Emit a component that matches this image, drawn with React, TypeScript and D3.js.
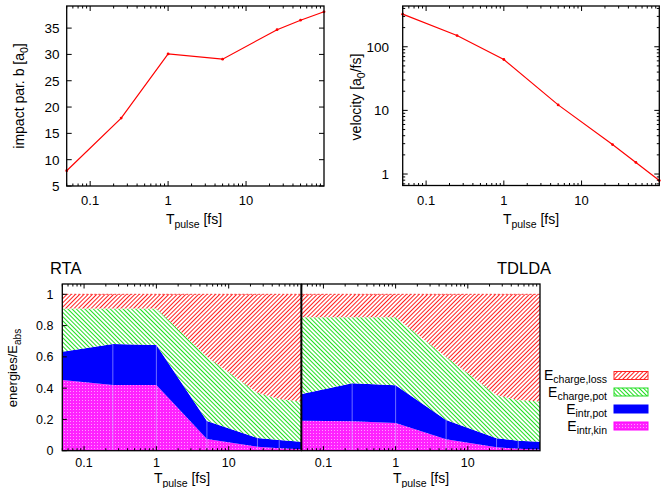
import React from 'react';
import * as d3 from 'd3';

// ---------- data ----------
const T = [0.05, 0.25, 1, 5, 25, 50, 100];
const impactPar = [7.9, 17.9, 30.1, 29.1, 34.7, 36.5, 38.1];
const velocity = [325, 150, 63, 12.2, 2.9, 1.52, 0.79];

const seriesKeys = ['intrKin', 'intrPot', 'chargePot', 'chargeLoss'];

const rtaIntrKin = [0.452, 0.42, 0.42, 0.075, 0.025, 0.015, 0.01];
const rtaIntrPot = [0.181, 0.262, 0.256, 0.115, 0.057, 0.053, 0.048];
const rtaChargePot = [0.277, 0.228, 0.234, 0.41, 0.288, 0.262, 0.257];
const rtaChargeLoss = [0.09, 0.09, 0.09, 0.4, 0.63, 0.67, 0.685];

const tdIntrKin = [0.192, 0.188, 0.177, 0.073, 0.022, 0.012, 0.008];
const tdIntrPot = [0.171, 0.243, 0.241, 0.123, 0.057, 0.052, 0.05];
const tdChargePot = [0.49, 0.422, 0.435, 0.404, 0.277, 0.26, 0.257];
const tdChargeLoss = [0.147, 0.147, 0.147, 0.4, 0.644, 0.676, 0.685];

const xTickValues = [0.1, 1, 10];
const xTickLabels = ['0.1', '1', '10'];
const impactTicks = [5, 10, 15, 20, 25, 30, 35];
const velocityTicks = [1, 10, 100];
const velocityTickLabels = ['1', '10', '100'];
const energyTicks = [0, 0.2, 0.4, 0.6, 0.8, 1];
const energyTickLabels = ['0', '0.2', '0.4', '0.6', '0.8', '1'];
const panelTitles = ['RTA', 'TDLDA'];
const legendMain = ['E', 'E', 'E', 'E'];
const legendSub = ['charge,loss', 'charge,pot', 'intr,pot', 'intr,kin'];
const legendKeys = ['chargeLoss', 'chargePot', 'intrPot', 'intrKin'];

// ---------- styles ----------
const FONT = 'Liberation Sans, Arial, Helvetica, sans-serif';
const fills: Record<string, string> = {
  intrKin: '#ff22ff',
  intrPot: '#0000ff',
  chargePot: 'url(#greenHatch)',
  chargeLoss: 'url(#redHatch)',
};
const strokes: Record<string, string> = {
  intrKin: '#ff00ff',
  intrPot: '#0000ff',
  chargePot: '#22dd22',
  chargeLoss: '#ff2222',
};

function logMinors(d0: number, d1: number) {
  const out: number[] = [];
  for (let e = -3; e <= 3; e++) {
    for (let m = 2; m <= 9; m++) {
      const v = m * Math.pow(10, e);
      if (v >= d0 * 0.999 && v <= d1 * 1.001) out.push(v);
    }
  }
  return out;
}

type Sc = (v: number) => number;

function XTicks({ x, yb, yt, majors, minors, labels, labelY, fs, len = 5, mlen = 2.5 }: any) {
  return (
    <g>
      {majors.map((v: number, i: number) => (
        <g key={'M' + i}>
          <line x1={x(v)} x2={x(v)} y1={yb} y2={yb - len} stroke="#000" strokeWidth={1} />
          <line x1={x(v)} x2={x(v)} y1={yt} y2={yt + len} stroke="#000" strokeWidth={1} />
          {labels && (
            <text x={x(v)} y={labelY} textAnchor="middle" fontSize={fs} fontFamily={FONT} fill="#000">
              {labels[i]}
            </text>
          )}
        </g>
      ))}
      {minors.map((v: number, i: number) => (
        <g key={'m' + i}>
          <line x1={x(v)} x2={x(v)} y1={yb} y2={yb - mlen} stroke="#000" strokeWidth={1} />
          <line x1={x(v)} x2={x(v)} y1={yt} y2={yt + mlen} stroke="#000" strokeWidth={1} />
        </g>
      ))}
    </g>
  );
}

function YTicks({ y, xl, xr, majors, minors, labels, labelX, fs, len = 5, mlen = 2.5, right = true }: any) {
  return (
    <g>
      {majors.map((v: number, i: number) => (
        <g key={'M' + i}>
          <line x1={xl} x2={xl + len} y1={y(v)} y2={y(v)} stroke="#000" strokeWidth={1} />
          {right && <line x1={xr} x2={xr - len} y1={y(v)} y2={y(v)} stroke="#000" strokeWidth={1} />}
          {labels && (
            <text x={labelX} y={y(v) + fs * 0.36} textAnchor="end" fontSize={fs} fontFamily={FONT} fill="#000">
              {labels[i]}
            </text>
          )}
        </g>
      ))}
      {minors.map((v: number, i: number) => (
        <g key={'m' + i}>
          <line x1={xl} x2={xl + mlen} y1={y(v)} y2={y(v)} stroke="#000" strokeWidth={1} />
          {right && <line x1={xr} x2={xr - mlen} y1={y(v)} y2={y(v)} stroke="#000" strokeWidth={1} />}
        </g>
      ))}
    </g>
  );
}

function TpulseLabel({ x, y }: { x: number; y: number }) {
  return (
    <text x={x} y={y} textAnchor="middle" fontSize={14} fontFamily={FONT} fill="#000" style={{ whiteSpace: 'pre' }}>
      <tspan>T</tspan>
      <tspan fontSize={10.5} dy={4}>pulse</tspan>
      <tspan dy={-4}> [fs]</tspan>
    </text>
  );
}

function LinePanel({ x, y, values }: { x: Sc; y: Sc; values: number[] }) {
  const line = d3
    .line<number>()
    .x((_, i) => x(T[i]))
    .y((d) => y(d));
  return (
    <g>
      <path d={line(values) || ''} fill="none" stroke="#ff0000" strokeWidth={1.2} />
      {values.map((v, i) => (
        <circle key={i} cx={x(T[i])} cy={y(v)} r={1.4} fill="#ff0000" />
      ))}
    </g>
  );
}

function StackPanel({ x, y, cols }: any) {
  const rows = T.map((t, i) => ({
    t,
    intrKin: cols[0][i],
    intrPot: cols[1][i],
    chargePot: cols[2][i],
    chargeLoss: cols[3][i],
  }));
  const stacked = d3.stack<any>().keys(seriesKeys)(rows);
  const area = d3
    .area<any>()
    .x((d) => x(d.data.t))
    .y0((d) => y(d[0]))
    .y1((d) => y(d[1]));
  const topLine = d3
    .line<any>()
    .x((d) => x(d.data.t))
    .y((d) => y(d[1]));
  const blueLayer = stacked[1];
  return (
    <g>
      {stacked.map((s) => (
        <path key={s.key} d={area(s as any) || ''} fill={fills[s.key]} stroke="none" />
      ))}
      <path d={area(stacked[0] as any) || ''} fill="url(#dotOverlay)" stroke="none" />
      <path d={topLine(stacked[3] as any) || ''} fill="none" stroke="#ff3333" strokeWidth={1} strokeDasharray="2,2" />
      {blueLayer.slice(1, -1).map((d: any, i: number) => (
        <line
          key={i}
          x1={x(d.data.t)}
          x2={x(d.data.t)}
          y1={y(0)}
          y2={y(d[1])}
          stroke="rgba(200,200,255,0.55)"
          strokeWidth={1}
        />
      ))}
    </g>
  );
}

export default function App() {
  const xTL = d3.scaleLog().domain([0.05, 100]).range([66.7, 324]);
  const yTL = d3.scaleLinear().domain([5, 39.2]).range([186, 6]);
  const xTR = d3.scaleLog().domain([0.05, 100]).range([402.7, 659.3]);
  const yTR = d3.scaleLog().domain([0.66, 437]).range([185.5, 6]);
  const xBL = d3.scaleLog().domain([0.05, 100]).range([62.3, 301]);
  const xBR = d3.scaleLog().domain([0.05, 100]).range([301.7, 540]);
  const yB = d3.scaleLinear().domain([0, 1.066]).range([450.7, 284]);

  const xMinors = logMinors(0.05, 100);
  const yMinorsTR = logMinors(0.66, 437);

  const rtaCols = [rtaIntrKin, rtaIntrPot, rtaChargePot, rtaChargeLoss];
  const tdCols = [tdIntrKin, tdIntrPot, tdChargePot, tdChargeLoss];

  const legendY = [375.5, 392, 409, 426];

  return (
    <svg
      width={670}
      height={488}
      style={{ position: 'absolute', left: 0, top: 0, background: '#fff' }}
      xmlns="http://www.w3.org/2000/svg"
    >
      <defs>
        <pattern id="redHatch" patternUnits="userSpaceOnUse" width={3} height={3} patternTransform="rotate(45)">
          <rect x={0} y={0} width={3} height={3} fill="#ffffff" />
          <rect x={0} y={0} width={1} height={3} fill="#ff2020" />
        </pattern>
        <pattern id="greenHatch" patternUnits="userSpaceOnUse" width={3} height={3} patternTransform="rotate(-45)">
          <rect x={0} y={0} width={3} height={3} fill="#ffffff" />
          <rect x={0} y={0} width={1} height={3} fill="#22e022" />
        </pattern>
        <pattern id="dotOverlay" patternUnits="userSpaceOnUse" width={3} height={3}>
          <rect x={1} y={1} width={1} height={1} fill="#ffffff" fillOpacity={0.55} />
        </pattern>
      </defs>

      {/* ---------- top-left ---------- */}
      <LinePanel x={xTL} y={yTL} values={impactPar} />
      <rect x={66.7} y={6} width={324 - 66.7} height={180} fill="none" stroke="#000" strokeWidth={1.3} />
      <XTicks x={xTL} yb={186} yt={6} majors={xTickValues} minors={xMinors} labels={xTickLabels} labelY={205} fs={13} />
      <YTicks y={yTL} xl={66.7} xr={324} majors={impactTicks} minors={[]} labels={impactTicks.map(String)} labelX={59.5} fs={13.5} />
      <text transform="translate(24,96) rotate(-90)" textAnchor="middle" fontSize={14} fontFamily={FONT} fill="#000">
        <tspan>impact par. b [a</tspan>
        <tspan fontSize={10.5} dy={3.5}>0</tspan>
        <tspan dy={-3.5}>]</tspan>
      </text>
      <TpulseLabel x={194} y={224} />

      {/* ---------- top-right ---------- */}
      <LinePanel x={xTR} y={yTR} values={velocity} />
      <rect x={402.7} y={6} width={659.3 - 402.7} height={179.5} fill="none" stroke="#000" strokeWidth={1.3} />
      <XTicks x={xTR} yb={185.5} yt={6} majors={xTickValues} minors={xMinors} labels={xTickLabels} labelY={205} fs={13} />
      <YTicks y={yTR} xl={402.7} xr={659.3} majors={velocityTicks} minors={yMinorsTR} labels={velocityTickLabels} labelX={389} fs={13.5} />
      <text transform="translate(361,97) rotate(-90)" textAnchor="middle" fontSize={14} fontFamily={FONT} fill="#000">
        <tspan>velocity [a</tspan>
        <tspan fontSize={10.5} dy={3.5}>0</tspan>
        <tspan dy={-3.5}>/fs]</tspan>
      </text>
      <TpulseLabel x={531} y={224} />

      {/* ---------- bottom ---------- */}
      <StackPanel x={xBL} y={yB} cols={rtaCols} />
      <StackPanel x={xBR} y={yB} cols={tdCols} />
      <rect x={62.3} y={284} width={301 - 62.3} height={450.7 - 284} fill="none" stroke="#000" strokeWidth={1.3} />
      <rect x={301.7} y={284} width={540 - 301.7} height={450.7 - 284} fill="none" stroke="#000" strokeWidth={1.3} />
      <XTicks x={xBL} yb={450.7} yt={284} majors={xTickValues} minors={xMinors} labels={xTickLabels} labelY={467} fs={12.5} len={4.5} mlen={2.5} />
      <XTicks x={xBR} yb={450.7} yt={284} majors={xTickValues} minors={xMinors} labels={xTickLabels} labelY={467} fs={12.5} len={4.5} mlen={2.5} />
      <YTicks y={yB} xl={62.3} xr={301} majors={energyTicks} minors={[]} labels={energyTickLabels} labelX={53.5} fs={12.5} len={4.5} right={false} />
      <text transform="translate(17,368) rotate(-90)" textAnchor="middle" fontSize={13} fontFamily={FONT} fill="#000">
        <tspan>energies/E</tspan>
        <tspan fontSize={10} dy={3.5}>abs</tspan>
      </text>
      <TpulseLabel x={182} y={483} />
      <TpulseLabel x={421} y={483} />
      <text x={50} y={274} fontSize={16.5} fontFamily={FONT} fill="#000">{panelTitles[0]}</text>
      <text x={497} y={274} fontSize={16.5} fontFamily={FONT} fill="#000">{panelTitles[1]}</text>

      {/* ---------- legend ---------- */}
      {legendKeys.map((k, i) => (
        <g key={k}>
          <rect x={614} y={legendY[i] - 4} width={34} height={8} fill={fills[k]} stroke={strokes[k]} strokeWidth={1} />
          {k === 'intrKin' && (
            <rect x={614} y={legendY[i] - 4} width={34} height={8} fill="url(#dotOverlay)" stroke="none" />
          )}
          <text x={607} y={legendY[i] + 4.5} textAnchor="end" fontSize={14} fontFamily={FONT} fill="#000">
            <tspan>{legendMain[i]}</tspan>
            <tspan fontSize={10.5} dy={3}>{legendSub[i]}</tspan>
          </text>
        </g>
      ))}
    </svg>
  );
}
